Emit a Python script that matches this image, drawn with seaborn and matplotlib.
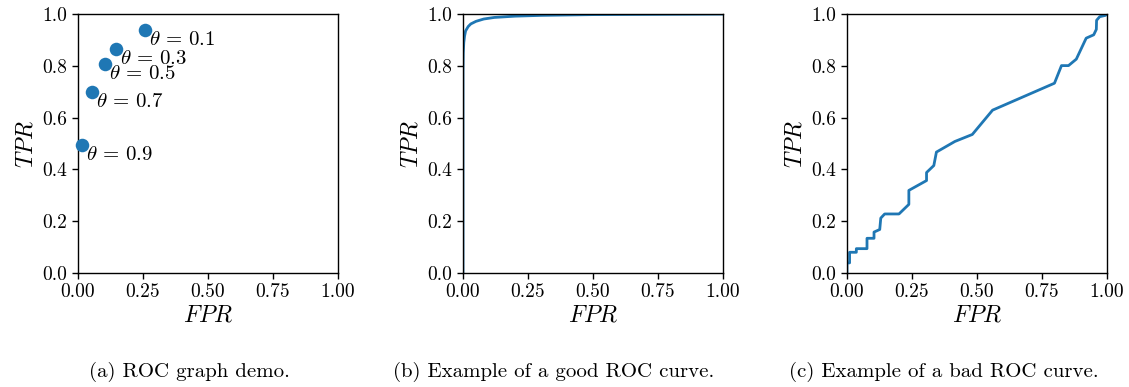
import pandas as pd
import matplotlib
matplotlib.use("Agg")
import matplotlib.pyplot as plt
import seaborn as sns

# (a) operating points for several thresholds
theta_labels = ["0.1", "0.3", "0.5", "0.7", "0.9"]
demo_fpr = [0.259, 0.146, 0.102, 0.055, 0.014]
demo_tpr = [0.937, 0.865, 0.806, 0.698, 0.493]

# (b) good classifier
good_fpr = [0.0, 0.0, 0.001, 0.003, 0.006, 0.01, 0.02, 0.03, 0.05, 0.08, 0.12, 0.2, 0.3, 0.5, 0.75, 1.0]
good_tpr = [0.0, 0.78, 0.85, 0.89, 0.915, 0.935, 0.952, 0.962, 0.972, 0.981, 0.987, 0.992, 0.995, 0.998, 0.999, 1.0]

# (c) bad classifier
bad_fpr = [0.0, 0.0, 0.010, 0.010, 0.036, 0.036, 0.077, 0.077, 0.104, 0.104, 0.126, 0.130,
           0.145, 0.200, 0.238, 0.238, 0.306, 0.306, 0.334, 0.344, 0.415, 0.482, 0.560,
           0.798, 0.825, 0.852, 0.882, 0.920, 0.949, 0.959, 0.960, 0.972, 0.994, 1.0]
bad_tpr = [0.0, 0.039, 0.039, 0.080, 0.080, 0.094, 0.094, 0.134, 0.134, 0.158, 0.168, 0.212,
           0.228, 0.228, 0.265, 0.319, 0.357, 0.388, 0.415, 0.467, 0.508, 0.535, 0.629,
           0.733, 0.801, 0.801, 0.826, 0.907, 0.920, 0.941, 0.976, 0.990, 0.995, 1.0]

captions = ["(a) ROC graph demo.", "(b) Example of a good ROC curve.",
            "(c) Example of a bad ROC curve."]
caption_x = [189, 554, 944]  # caption centres, pixels

sns.set_style("ticks")
plt.rcParams["font.family"] = ["cmr10", "DejaVu Serif"]
plt.rcParams["mathtext.fontset"] = "cm"
plt.rcParams["axes.formatter.use_mathtext"] = True
plt.rcParams["text.color"] = "black"
plt.rcParams["axes.labelcolor"] = "black"
plt.rcParams["axes.edgecolor"] = "black"
plt.rcParams["axes.linewidth"] = 1.0
plt.rcParams["xtick.color"] = "black"
plt.rcParams["ytick.color"] = "black"
plt.rcParams["xtick.direction"] = "out"
plt.rcParams["ytick.direction"] = "out"

blue = "#1f77b4"
W, H = 1129, 387
fig = plt.figure(figsize=(W / 100, H / 100), dpi=100)
lefts = [0.0691, 0.4101, 0.7502]
axes = [fig.add_axes([l, 0.2946, 0.2303, 0.669]) for l in lefts]

demo = pd.DataFrame({"fpr": demo_fpr, "tpr": demo_tpr})
sns.scatterplot(data=demo, x="fpr", y="tpr", ax=axes[0], s=95, color=blue,
                linewidth=0, clip_on=False, zorder=3)
for lab, x, y in zip(theta_labels, demo_fpr, demo_tpr):
    axes[0].annotate(r"$\theta\,=\,%s$" % lab, (x, y), xytext=(4, -1),
                     textcoords="offset pixels", va="top", ha="left", fontsize=15)

good = pd.DataFrame({"fpr": good_fpr, "tpr": good_tpr})
sns.lineplot(data=good, x="fpr", y="tpr", ax=axes[1], sort=False, estimator=None,
             color=blue, linewidth=2)

bad = pd.DataFrame({"fpr": bad_fpr, "tpr": bad_tpr})
sns.lineplot(data=bad, x="fpr", y="tpr", ax=axes[2], sort=False, estimator=None,
             color=blue, linewidth=2)

for ax, cap, cx in zip(axes, captions, caption_x):
    ax.set_xlim(0, 1)
    ax.set_ylim(0, 1)
    ax.set_xticks([0, 0.25, 0.5, 0.75, 1.0])
    ax.set_xticklabels(["0.00", "0.25", "0.50", "0.75", "1.00"])
    ax.set_yticks([0, 0.2, 0.4, 0.6, 0.8, 1.0])
    ax.set_yticklabels(["0.0", "0.2", "0.4", "0.6", "0.8", "1.0"])
    ax.tick_params(labelsize=14, length=4, width=1)
    ax.set_xlabel("$FPR$", fontsize=17, labelpad=2)
    ax.set_ylabel("$TPR$", fontsize=17, labelpad=4)
    for sp in ax.spines.values():
        sp.set_visible(True)
    fig.text(cx / W, 0.040, cap, ha="center", va="center", fontsize=15)

fig.savefig("out.png", dpi=100)
